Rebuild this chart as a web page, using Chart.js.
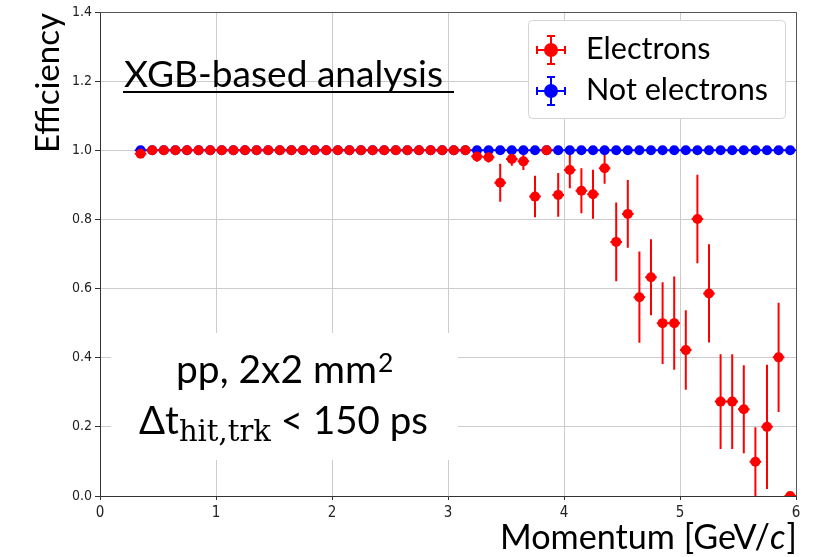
<!DOCTYPE html>
<html lang="en">
<head>
<meta charset="UTF-8">
<title>Efficiency vs Momentum</title>
<script src="https://cdn.jsdelivr.net/npm/chart.js"></script>
<style>
  body { margin: 0; background: #fff; }
  .wrap { width: 815px; height: 557px; }
</style>
</head>
<body>
<div class="wrap"><canvas id="effChart" width="815" height="557"></canvas></div>
<script>
// bin centres [GeV/c]
const momentum = [0.35, 0.45, 0.55, 0.65, 0.75, 0.85, 0.95, 1.05, 1.15, 1.25,
                  1.35, 1.45, 1.55, 1.65, 1.75, 1.85, 1.95, 2.05, 2.15, 2.25,
                  2.35, 2.45, 2.55, 2.65, 2.75, 2.85, 2.95, 3.05, 3.15, 3.25,
                  3.35, 3.45, 3.55, 3.65, 3.75, 3.85, 3.95, 4.05, 4.15, 4.25,
                  4.35, 4.45, 4.55, 4.65, 4.75, 4.85, 4.95, 5.05, 5.15, 5.25,
                  5.35, 5.45, 5.55, 5.65, 5.75, 5.85, 5.95];
const binHalfWidth = 0.05;

const electronEff = [0.99, 1, 1, 1, 1, 1, 1, 1, 1, 1,
                     1, 1, 1, 1, 1, 1, 1, 1, 1, 1,
                     1, 1, 1, 1, 1, 1, 1, 1, 1, 0.982,
                     0.98, 0.906, 0.975, 0.968, 0.866, 1, 0.871, 0.943, 0.883, 0.873,
                     0.948, 0.735, 0.816, 0.575, 0.633, 0.5, 0.5, 0.422, 0.801, 0.586,
                     0.273, 0.273, 0.251, 0.099, 0.2, 0.401, 0];
const electronErr = [0, 0, 0, 0, 0, 0, 0, 0, 0, 0,
                     0, 0, 0, 0, 0, 0, 0, 0, 0, 0,
                     0, 0, 0, 0, 0, 0, 0, 0, 0, 0.015,
                     0.015, 0.055, 0.02, 0.025, 0.06, 0, 0.063, 0.053, 0.065, 0.071,
                     0.045, 0.114, 0.098, 0.132, 0.11, 0.118, 0.135, 0.115, 0.128, 0.142,
                     0.137, 0.137, 0.127, 0.1, 0.18, 0.158, 0];

const otherEff = [1, 1, 1, 1, 1, 1, 1, 1, 1, 1,
                  1, 1, 1, 1, 1, 1, 1, 1, 1, 1,
                  1, 1, 1, 1, 1, 1, 1, 1, 1, 1,
                  1, 1, 1, 1, 1, 1, 1, 1, 1, 1,
                  1, 1, 1, 1, 1, 1, 1, 1, 1, 1,
                  1, 1, 1, 1, 1, 1, 1];
const otherErr = [0, 0, 0, 0, 0, 0, 0, 0, 0, 0,
                  0, 0, 0, 0, 0, 0, 0, 0, 0, 0,
                  0, 0, 0, 0, 0, 0, 0, 0, 0, 0,
                  0, 0, 0, 0, 0, 0, 0, 0, 0, 0,
                  0, 0, 0, 0, 0, 0, 0, 0, 0, 0,
                  0, 0, 0, 0, 0, 0, 0];

const seriesLabels = ['Electrons', 'Not electrons'];
const seriesColors = ['#ff0000', '#0000ff'];

const xMin = 0, xMax = 6, xStep = 1;
const yMin = 0, yMax = 1.4, yStep = 0.2;

const TEXT_FONT = 'Lato, "Open Sans", sans-serif';
const SUB_FONT = '"DejaVu Serif", "Liberation Serif", serif';
const TICK_FONT = '"DejaVu Sans Condensed", "DejaVu Sans", sans-serif';

function toPoints(eff, err) {
    return momentum.map((m, i) => ({ x: m, y: eff[i], yErr: err[i] }));
}

// font size so that text spans the wanted width
function fitSize(ctx, text, family, width, style) {
    ctx.font = (style || '') + ' 100px ' + family;
    return 100 * width / ctx.measureText(text).width;
}

function errorMarker(ctx, cx, cy, color, r, arm, cap) {
    ctx.strokeStyle = color;
    ctx.fillStyle = color;
    ctx.lineWidth = 2;
    ctx.beginPath();
    ctx.moveTo(cx - arm, cy); ctx.lineTo(cx + arm, cy);
    ctx.moveTo(cx, cy - arm); ctx.lineTo(cx, cy + arm);
    ctx.moveTo(cx - cap, cy - arm); ctx.lineTo(cx + cap, cy - arm);
    ctx.moveTo(cx - cap, cy + arm); ctx.lineTo(cx + cap, cy + arm);
    ctx.moveTo(cx - arm, cy - cap); ctx.lineTo(cx - arm, cy + cap);
    ctx.moveTo(cx + arm, cy - cap); ctx.lineTo(cx + arm, cy + cap);
    ctx.stroke();
    ctx.beginPath();
    ctx.arc(cx, cy, r, 0, Math.PI * 2);
    ctx.fill();
}

const errorBars = {
    id: 'errorBars',
    beforeDatasetsDraw(chart) {
        const { ctx, chartArea: a, scales: { x, y } } = chart;
        ctx.save();
        ctx.beginPath();
        ctx.rect(a.left, a.top, a.right - a.left, a.bottom - a.top);
        ctx.clip();
        // draw last dataset first so the electrons sit on top
        for (let d = chart.data.datasets.length - 1; d >= 0; d--) {
            const ds = chart.data.datasets[d];
            ctx.strokeStyle = ds.backgroundColor;
            ctx.lineWidth = 2;
            ctx.beginPath();
            ds.data.forEach(p => {
                const px = x.getPixelForValue(p.x);
                const py = y.getPixelForValue(p.y);
                ctx.moveTo(x.getPixelForValue(p.x - binHalfWidth), py);
                ctx.lineTo(x.getPixelForValue(p.x + binHalfWidth), py);
                if (p.yErr > 0) {
                    ctx.moveTo(px, y.getPixelForValue(p.y - p.yErr));
                    ctx.lineTo(px, y.getPixelForValue(p.y + p.yErr));
                }
            });
            ctx.stroke();
        }
        ctx.restore();
    }
};

const decorations = {
    id: 'decorations',
    afterDraw(chart) {
        const { ctx, chartArea: a } = chart;
        ctx.save();

        // top / right frame
        ctx.strokeStyle = '#555';
        ctx.lineWidth = 1;
        ctx.beginPath();
        ctx.moveTo(a.left, a.top + 0.5); ctx.lineTo(a.right + 0.5, a.top + 0.5);
        ctx.lineTo(a.right + 0.5, a.bottom);
        ctx.stroke();

        ctx.fillStyle = '#000';
        ctx.textBaseline = 'alphabetic';
        ctx.textAlign = 'left';

        // y title
        let s = fitSize(ctx, 'Efficiency', TEXT_FONT, 140);
        ctx.save();
        ctx.translate(59, 153);
        ctx.rotate(-Math.PI / 2);
        ctx.font = s + 'px ' + TEXT_FONT;
        ctx.fillText('Efficiency', 0, 0);
        ctx.restore();

        // x title, right aligned on the frame
        ctx.font = '100px ' + TEXT_FONT;
        const wA = ctx.measureText('Momentum [GeV/').width;
        const wC = (ctx.font = 'italic 100px ' + TEXT_FONT, ctx.measureText('c').width);
        ctx.font = '100px ' + TEXT_FONT;
        const wB = ctx.measureText(']').width;
        s = 100 * 296 / (wA + wB + wC);
        let xx = 796 - 296;
        ctx.font = s + 'px ' + TEXT_FONT;
        ctx.fillText('Momentum [GeV/', xx, 549);
        xx += wA * s / 100;
        ctx.font = 'italic ' + s + 'px ' + TEXT_FONT;
        ctx.fillText('c', xx, 549);
        xx += wC * s / 100 + 1;
        ctx.font = s + 'px ' + TEXT_FONT;
        ctx.fillText(']', xx, 549);

        // analysis label
        s = fitSize(ctx, 'XGB-based analysis', TEXT_FONT, 319);
        ctx.font = s + 'px ' + TEXT_FONT;
        ctx.fillText('XGB-based analysis', 124, 87);
        ctx.fillRect(123, 91, 331, 2);

        // conditions box
        ctx.fillStyle = '#fff';
        ctx.fillRect(111, 333, 347, 127);
        ctx.fillStyle = '#000';
        s = fitSize(ctx, 'pp, 2x2 mm', TEXT_FONT, 201);
        ctx.font = s + 'px ' + TEXT_FONT;
        ctx.fillText('pp, 2x2 mm', 176, 383);
        xx = 176 + ctx.measureText('pp, 2x2 mm').width + 1;
        ctx.font = (s * 0.68) + 'px ' + TEXT_FONT;
        ctx.fillText('2', xx, 372);

        ctx.font = '100px ' + TEXT_FONT;
        const wDt = ctx.measureText('\u0394t').width;
        const wRest = ctx.measureText(' < 150 ps').width;
        s = 100 * 197 / (wDt + wRest);
        const sSub = fitSize(ctx, 'hit,trk', SUB_FONT, 92);
        xx = 139;
        ctx.font = s + 'px ' + TEXT_FONT;
        ctx.fillText('\u0394t', xx, 434);
        xx += wDt * s / 100;
        ctx.font = sSub + 'px ' + SUB_FONT;
        ctx.fillText('hit,trk', xx, 441);
        xx += 92;
        ctx.font = s + 'px ' + TEXT_FONT;
        ctx.fillText(' < 150 ps', xx, 434);

        // legend
        const lx = 528, ly = 20, lw = 257, lh = 98;
        ctx.beginPath();
        ctx.roundRect(lx + 0.5, ly + 0.5, lw, lh, 4);
        ctx.fillStyle = '#fff';
        ctx.fill();
        ctx.strokeStyle = '#d4d4d4';
        ctx.lineWidth = 1;
        ctx.stroke();
        s = fitSize(ctx, seriesLabels[1], TEXT_FONT, 182);
        const rows = [50, 91];
        seriesLabels.forEach((lab, i) => {
            errorMarker(ctx, 551, rows[i], seriesColors[i], 7, 14, 4);
            ctx.fillStyle = '#000';
            ctx.font = s + 'px ' + TEXT_FONT;
            ctx.fillText(lab, 586, rows[i] + 9);
        });

        ctx.restore();
    }
};

const ctx = document.getElementById('effChart').getContext('2d');
new Chart(ctx, {
    type: 'scatter',
    data: {
        datasets: [
            {
                label: seriesLabels[0],
                data: toPoints(electronEff, electronErr),
                backgroundColor: seriesColors[0],
                pointRadius: 5,
                pointBorderWidth: 0,
                clip: 0
            },
            {
                label: seriesLabels[1],
                data: toPoints(otherEff, otherErr),
                backgroundColor: seriesColors[1],
                pointRadius: 5,
                pointBorderWidth: 0,
                clip: 0
            }
        ]
    },
    options: {
        responsive: false,
        animation: false,
        layout: { padding: { top: 12, right: 19, left: 0, bottom: 0 } },
        plugins: {
            legend: { display: false },
            tooltip: { enabled: false }
        },
        scales: {
            x: {
                type: 'linear',
                min: xMin, max: xMax,
                afterFit(scale) { scale.height = 61; },
                grid: { color: '#cccccc', tickColor: '#333', tickLength: 4 },
                border: { color: '#333' },
                ticks: {
                    stepSize: xStep,
                    padding: 4,
                    color: '#222',
                    font: { family: TICK_FONT, size: 15 }
                }
            },
            y: {
                type: 'linear',
                min: yMin, max: yMax,
                afterFit(scale) { scale.width = 100; },
                grid: { color: '#cccccc', tickColor: '#333', tickLength: 5 },
                border: { color: '#333' },
                ticks: {
                    stepSize: yStep,
                    padding: 3,
                    color: '#222',
                    font: { family: TICK_FONT, size: 14 },
                    callback: v => v.toFixed(1)
                }
            }
        }
    },
    plugins: [errorBars, decorations]
});
</script>
</body>
</html>
